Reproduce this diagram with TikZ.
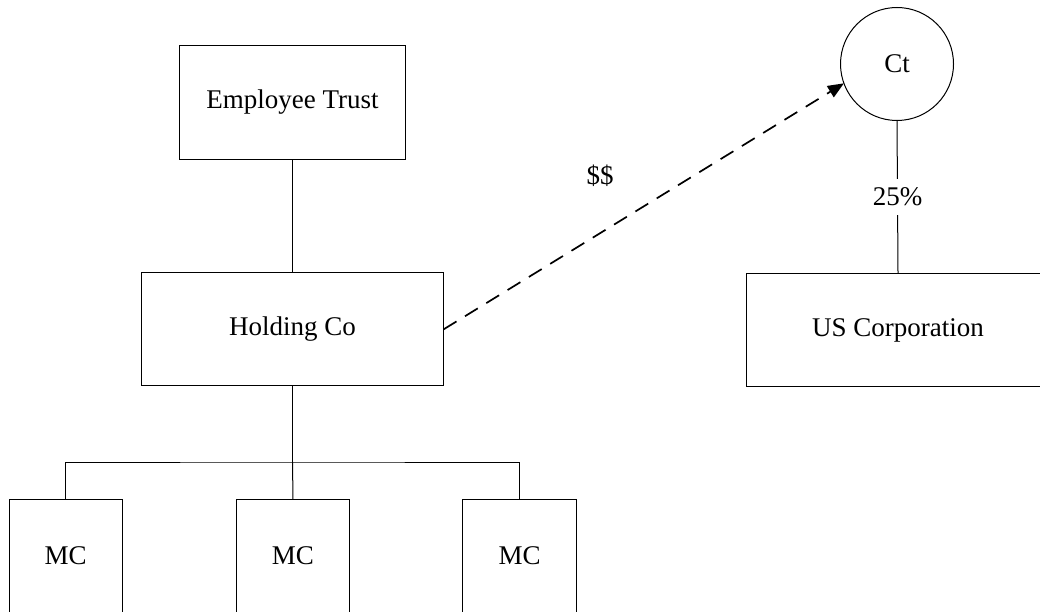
\documentclass[tikz,border=0pt]{standalone}
\usepackage{fontspec}
\setmainfont{Liberation Serif}
\usetikzlibrary{arrows.meta}
\begin{document}
\begin{tikzpicture}[x=1pt,y=-1pt,
  every node/.style={font=\fontsize{27}{32}\selectfont},
  box/.style={draw=black, line width=1pt, rectangle, inner sep=0pt, outer sep=0pt},
  link/.style={draw=black, line width=1pt},
  flow/.style={draw=black, line width=1.7pt, dash pattern=on 15pt off 10pt,
    -{Triangle[length=16pt,width=13pt]}}]
  \useasboundingbox (0,0) rectangle (1040,612);

  % ownership boxes
  \node[box, minimum width=226.7pt, minimum height=113.3pt] (et) at (292.5,102.4) {Employee Trust};
  \node[box, minimum width=302.4pt, minimum height=113.3pt] (hc) at (292.5,329.3) {Holding Co};
  \node[box, minimum width=304pt, minimum height=113.7pt] (us) at (898,330) {US Corporation};
  \node[box, circle, minimum size=113pt] (ct) at (897,64) {Ct};

  % operating companies
  \node[box, minimum width=113.3pt, minimum height=113pt] (mc1) at (65.7,556) {MC};
  \node[box, minimum width=113.3pt, minimum height=113pt] (mc2) at (293,556) {MC};
  \node[box, minimum width=113.3pt, minimum height=113pt] (mc3) at (519.5,556) {MC};

  % tree connectors
  \coordinate (bus) at (292.5,462);
  \draw[link] (et) -- (hc);
  \draw[link] (hc) -- (bus);
  \draw[link] (mc1.north) |- (bus) -| (mc3.north);
  \draw[link] (bus) -- (mc2.north);

  % shareholding of Ct in the US corporation
  \draw[link] (ct.south) -- node[fill=white, inner sep=0pt, minimum height=36pt] (pct) {25\%} (us.north);

  % payment flow
  \draw[flow] (hc.east) -- (ct.200);
  \node (pay) at (600,175.7) {\$\$};
\end{tikzpicture}
\end{document}
